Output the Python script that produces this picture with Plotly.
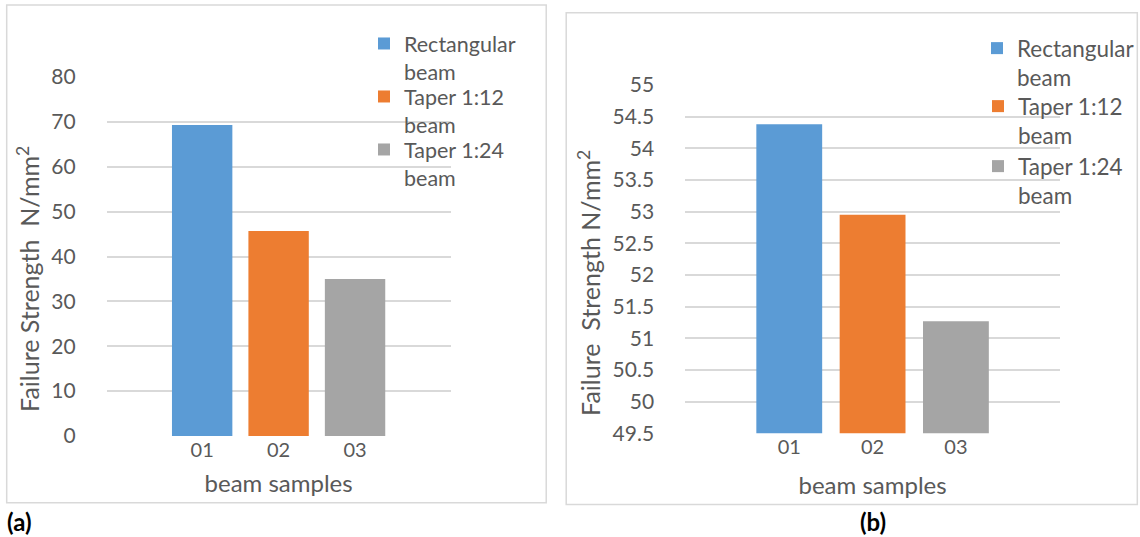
import plotly.graph_objects as go

# ---------------- data ----------------
categories = ["01", "02", "03"]
series_names = ["Rectangular<br>beam", "Taper 1:12<br>beam", "Taper 1:24<br>beam"]
values_a = [69.3, 45.7, 35.0]
values_b = [54.38, 52.95, 51.27]
ticks_a = [0, 10, 20, 30, 40, 50, 60, 70, 80]
ticks_b = [49.5, 50, 50.5, 51, 51.5, 52, 52.5, 53, 53.5, 54, 54.5, 55]
tick_labels_b = ["49.5", "50", "50.5", "51", "51.5", "52", "52.5", "53", "53.5", "54", "54.5", "55"]
y_title_a = "Failure Strength\u00a0 N/mm<sup>2</sup>"
y_title_b = "Failure\u00a0 Strength N/mm<sup>2</sup>"
x_title = "beam samples"

# ---------------- style ----------------
W, H = 1140, 537
colors = ["#5b9bd5", "#ed7d31", "#a5a5a5"]
TXT = "#595959"
GRID = "#d9d9d9"
FONT = "Lato"


def px(x):
    return x / W


def py(y):
    return 1 - y / H


fig = go.Figure()

legend_ids_a = ["legend", "legend2", "legend3"]
legend_ids_b = ["legend4", "legend5", "legend6"]
legend_y_a = [44, 97, 150]
legend_y_b = [49, 107, 167]

for i in range(3):
    fig.add_trace(go.Bar(
        x=[categories[i]], y=[values_a[i]], name=series_names[i],
        marker=dict(color=colors[i], line=dict(width=0)), width=0.79,
        xaxis="x", yaxis="y", legend=legend_ids_a[i]))
for i in range(3):
    fig.add_trace(go.Bar(
        x=[categories[i]], y=[values_b[i]], name=series_names[i],
        marker=dict(color=colors[i], line=dict(width=0)), width=0.79,
        xaxis="x2", yaxis="y2", legend=legend_ids_b[i]))

common_x = dict(type="category", categoryorder="array", categoryarray=categories,
                range=[-1.25, 3.25], showgrid=False, zeroline=False, showline=False,
                ticks="", tickfont=dict(family=FONT, size=20, color=TXT),
                fixedrange=True, automargin=False)
common_y = dict(showgrid=True, gridcolor=GRID, gridwidth=1.6, zeroline=False, showline=False,
                ticks="", tickfont=dict(family=FONT, size=21, color=TXT),
                ticklabelstandoff=30, automargin=False, fixedrange=True)
xtitle_font = dict(family=FONT, size=24, color=TXT)

layout = dict(
    template="none",
    width=W, height=H, margin=dict(l=0, r=0, t=0, b=0, pad=0), autosize=False,
    paper_bgcolor="white", plot_bgcolor="white",
    barmode="overlay", showlegend=True,
    font=dict(family=FONT, color=TXT),
    xaxis=dict(domain=[px(106.7), px(451)], anchor="y",
               title=dict(text=x_title, font=xtitle_font, standoff=15), **common_x),
    yaxis=dict(domain=[py(436), py(77)], anchor="x", range=[0, 80],
               tickvals=ticks_a, **common_y),
    xaxis2=dict(domain=[px(685.7), px(1061)], anchor="y2",
                title=dict(text=x_title, font=xtitle_font, standoff=19), **common_x),
    yaxis2=dict(domain=[py(433.3), py(85)], anchor="x2", range=[49.5, 55],
                tickvals=ticks_b, ticktext=tick_labels_b, **common_y),
)

for lid, yc in zip(legend_ids_a, legend_y_a):
    layout[lid] = dict(x=px(405 - 41), y=py(yc - 21), xanchor="left", yanchor="top",
                       bgcolor="rgba(0,0,0,0)", borderwidth=0, valign="top",
                       font=dict(family=FONT, size=21.5, color=TXT))
for lid, yc in zip(legend_ids_b, legend_y_b):
    layout[lid] = dict(x=px(1019 - 41), y=py(yc - 22), xanchor="left", yanchor="top",
                       bgcolor="rgba(0,0,0,0)", borderwidth=0, valign="top",
                       font=dict(family=FONT, size=22.5, color=TXT))

fig.update_layout(**layout)

# panel borders
fig.add_shape(type="rect", xref="paper", yref="paper",
              x0=px(6.7), x1=px(546.7), y0=py(502.7), y1=py(5),
              line=dict(color=GRID, width=1.5), layer="below")
fig.add_shape(type="rect", xref="paper", yref="paper",
              x0=px(566.7), x1=px(1138.3), y0=py(504.5), y1=py(12.7),
              line=dict(color=GRID, width=1.5), layer="below")

# y-axis titles
fig.add_annotation(text=y_title_a, xref="paper", yref="paper", x=px(28), y=py(279),
                   textangle=-90, showarrow=False, xanchor="center", yanchor="middle",
                   font=dict(family=FONT, size=25, color=TXT))
fig.add_annotation(text=y_title_b, xref="paper", yref="paper", x=px(590), y=py(282.5),
                   textangle=-90, showarrow=False, xanchor="center", yanchor="middle",
                   font=dict(family=FONT, size=25, color=TXT))

# panel labels
fig.add_annotation(text="<b>(a)</b>", xref="paper", yref="paper", x=px(5), y=py(521.5),
                   showarrow=False, xanchor="left", yanchor="middle",
                   font=dict(family=FONT, size=24, color="black"))
fig.add_annotation(text="<b>(b)</b>", xref="paper", yref="paper", x=px(874), y=py(521.5),
                   showarrow=False, xanchor="center", yanchor="middle",
                   font=dict(family=FONT, size=24, color="black"))

fig.write_html("out.html", config={"displayModeBar": False},
               post_script="document.body.style.margin='0';document.body.style.overflow='hidden';")
